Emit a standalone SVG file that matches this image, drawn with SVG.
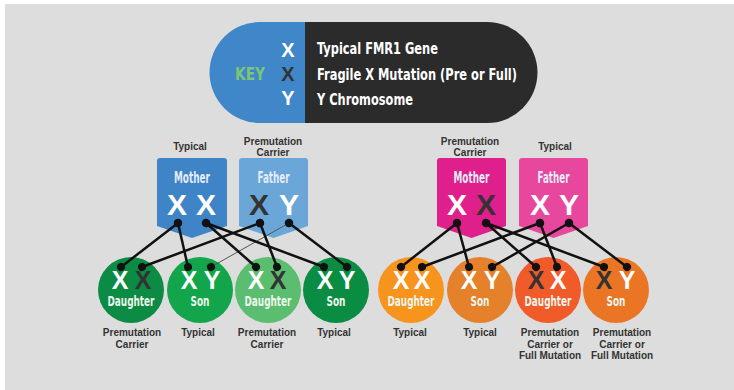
<svg xmlns="http://www.w3.org/2000/svg" width="734" height="390" viewBox="0 0 734 390">
  <style>
    .cond { font-family: "Liberation Sans Narrow", "DejaVu Sans Condensed", "Roboto", "Liberation Sans", sans-serif; font-weight: bold; }
    .big { font-family: "Liberation Sans", "Arial", sans-serif; font-weight: bold; text-anchor: middle; }
    .note { font-family: "Liberation Sans", "Arial", sans-serif; font-weight: bold; font-size: 10px; fill: #333333; text-anchor: middle; }
    .keytxt { font-size: 15px; fill: #ffffff; }
    .role { font-size: 15px; fill: #e4ecf6; text-anchor: middle; }
    .kid { font-size: 14px; fill: #eef6ee; text-anchor: middle; }
    .wx { fill: #ffffff; }
    .dx { fill: #333333; }
    .link { stroke: #111111; stroke-width: 2.5; fill: none; marker-start: url(#dot); marker-end: url(#dot); }
    .thin { stroke: #555555; stroke-width: 1; fill: none; marker-start: url(#dot); marker-end: url(#dot); }
  </style>
  <defs>
    <marker id="dot" markerUnits="userSpaceOnUse" viewBox="-5 -5 10 10" refX="0" refY="0" markerWidth="10" markerHeight="10" orient="auto">
      <circle cx="0" cy="0" r="4" fill="#111111"/>
    </marker>
  </defs>

  <!-- backdrop -->
  <rect x="0" y="0" width="734" height="390" fill="#ffffff"/>
  <rect x="5" y="4" width="729" height="386" fill="#dddddd"/>

  <!-- legend pill -->
  <g id="key">
    <path d="M305,22 H260 A50.5,50.5 0 0 0 260,123 H305 Z" fill="#3f87c8"/>
    <path d="M305,22 H487 A50.5,50.5 0 0 1 487,123 H305 Z" fill="#2b2b2b"/>
    <text x="235" y="80" class="cond" font-size="17" font-weight="normal" fill="#7cc576" textLength="30" lengthAdjust="spacingAndGlyphs">KEY</text>
    <text x="288" y="57" class="big wx" font-size="20">X</text>
    <text x="288" y="81" class="big dx" font-size="20">X</text>
    <text x="288" y="105" class="big wx" font-size="20">Y</text>
    <text x="317" y="54" class="cond keytxt" textLength="121" lengthAdjust="spacingAndGlyphs">Typical FMR1 Gene</text>
    <text x="317" y="80" class="cond keytxt" textLength="200" lengthAdjust="spacingAndGlyphs">Fragile X Mutation (Pre or Full)</text>
    <text x="317" y="105" class="cond keytxt" textLength="96" lengthAdjust="spacingAndGlyphs">Y Chromosome</text>
  </g>

  <!-- left family: parents -->
  <g id="mother-left">
    <text x="190" y="150" class="note">Typical</text>
    <path d="M157,161 Q157,158 160,158 H224 Q227,158 227,161 V226 L192,238 L157,226 Z" fill="#3e84c6"/>
    <text x="192" y="183" class="cond role" textLength="36" lengthAdjust="spacingAndGlyphs">Mother</text>
    <text x="177" y="215" class="big wx" font-size="30">X</text>
    <text x="206" y="215" class="big wx" font-size="30">X</text>
  </g>
  <g id="father-left">
    <text x="273" y="144.5" class="note">Premutation</text>
    <text x="273" y="156" class="note">Carrier</text>
    <path d="M239,161 Q239,158 242,158 H305 Q308,158 308,161 V226 L273.5,238 L239,226 Z" fill="#6aa6d8"/>
    <text x="273.5" y="183" class="cond role" textLength="32" lengthAdjust="spacingAndGlyphs">Father</text>
    <text x="259" y="215" class="big dx" font-size="30">X</text>
    <text x="289" y="215" class="big wx" font-size="30">Y</text>
  </g>

  <!-- right family: parents -->
  <g id="mother-right">
    <text x="470" y="144.5" class="note">Premutation</text>
    <text x="470" y="156" class="note">Carrier</text>
    <path d="M437,161 Q437,158 440,158 H503 Q506,158 506,161 V226 L471.5,238 L437,226 Z" fill="#df1f8b"/>
    <text x="471.5" y="183" class="cond role" fill="#f8dcec" textLength="36" lengthAdjust="spacingAndGlyphs">Mother</text>
    <text x="457" y="215" class="big wx" font-size="30">X</text>
    <text x="486" y="215" class="big dx" font-size="30">X</text>
  </g>
  <g id="father-right">
    <text x="555" y="150" class="note">Typical</text>
    <path d="M519,161 Q519,158 522,158 H585 Q588,158 588,161 V226 L553.5,238 L519,226 Z" fill="#e8479e"/>
    <text x="553.5" y="183" class="cond role" fill="#fbe0ee" textLength="32" lengthAdjust="spacingAndGlyphs">Father</text>
    <text x="540" y="215" class="big wx" font-size="30">X</text>
    <text x="569" y="215" class="big wx" font-size="30">Y</text>
  </g>

  <!-- left family: children -->
  <g id="child-1">
    <circle cx="131" cy="290" r="33" fill="#0b8b43"/>
    <text x="120" y="289" class="big wx" font-size="25">X</text>
    <text x="143" y="289" class="big dx" font-size="25">X</text>
    <text x="131" y="306" class="cond kid" textLength="47" lengthAdjust="spacingAndGlyphs">Daughter</text>
    <text x="132" y="336" class="note">Premutation</text>
    <text x="132" y="347.5" class="note">Carrier</text>
  </g>
  <g id="child-2">
    <circle cx="200" cy="290" r="33" fill="#12a54b"/>
    <text x="189" y="289" class="big wx" font-size="25">X</text>
    <text x="212" y="289" class="big wx" font-size="25">Y</text>
    <text x="200" y="306" class="cond kid" textLength="19" lengthAdjust="spacingAndGlyphs">Son</text>
    <text x="198" y="336" class="note">Typical</text>
  </g>
  <g id="child-3">
    <circle cx="268" cy="290" r="33" fill="#5bbd6f"/>
    <text x="256" y="289" class="big wx" font-size="25">X</text>
    <text x="278" y="289" class="big dx" font-size="25">X</text>
    <text x="268" y="306" class="cond kid" textLength="47" lengthAdjust="spacingAndGlyphs">Daughter</text>
    <text x="267" y="336" class="note">Premutation</text>
    <text x="267" y="347.5" class="note">Carrier</text>
  </g>
  <g id="child-4">
    <circle cx="336" cy="290" r="33" fill="#0a8d42"/>
    <text x="325" y="289" class="big wx" font-size="25">X</text>
    <text x="347" y="289" class="big wx" font-size="25">Y</text>
    <text x="336" y="306" class="cond kid" textLength="19" lengthAdjust="spacingAndGlyphs">Son</text>
    <text x="334" y="336" class="note">Typical</text>
  </g>

  <!-- right family: children -->
  <g id="child-5">
    <circle cx="411" cy="290" r="33" fill="#f7941e"/>
    <text x="401" y="289" class="big wx" font-size="25">X</text>
    <text x="422" y="289" class="big wx" font-size="25">X</text>
    <text x="411" y="306" class="cond kid" fill="#fdeedd" textLength="47" lengthAdjust="spacingAndGlyphs">Daughter</text>
    <text x="410" y="336" class="note">Typical</text>
  </g>
  <g id="child-6">
    <circle cx="480" cy="290" r="33" fill="#e4812a"/>
    <text x="469" y="289" class="big wx" font-size="25">X</text>
    <text x="492" y="289" class="big wx" font-size="25">Y</text>
    <text x="480" y="306" class="cond kid" fill="#fdeedd" textLength="19" lengthAdjust="spacingAndGlyphs">Son</text>
    <text x="480" y="336" class="note">Typical</text>
  </g>
  <g id="child-7">
    <circle cx="548" cy="290" r="33" fill="#f15a29"/>
    <text x="536" y="289" class="big dx" font-size="25">X</text>
    <text x="558" y="289" class="big wx" font-size="25">X</text>
    <text x="548" y="306" class="cond kid" fill="#fde6dd" textLength="47" lengthAdjust="spacingAndGlyphs">Daughter</text>
    <text x="550" y="336" class="note">Premutation</text>
    <text x="550" y="347.5" class="note">Carrier or</text>
    <text x="550" y="359" class="note">Full Mutation</text>
  </g>
  <g id="child-8">
    <circle cx="616" cy="290" r="33" fill="#e97525"/>
    <text x="604" y="289" class="big dx" font-size="25">X</text>
    <text x="627" y="289" class="big wx" font-size="25">Y</text>
    <text x="616" y="306" class="cond kid" fill="#fdeedd" textLength="19" lengthAdjust="spacingAndGlyphs">Son</text>
    <text x="622" y="336" class="note">Premutation</text>
    <text x="622" y="347.5" class="note">Carrier or</text>
    <text x="622" y="359" class="note">Full Mutation</text>
  </g>

  <!-- inheritance links, parent chromosome to child chromosome -->
  <g id="connectors">
    <line class="thin" x1="289" y1="223" x2="211" y2="267"/>
    <line class="link" x1="178" y1="223" x2="121" y2="267"/>
    <line class="link" x1="178" y1="223" x2="188" y2="267"/>
    <line class="link" x1="206" y1="223" x2="256" y2="267"/>
    <line class="link" x1="206" y1="223" x2="324" y2="267"/>
    <line class="link" x1="260" y1="223" x2="142" y2="267"/>
    <line class="link" x1="260" y1="223" x2="277" y2="267"/>
    <line class="link" x1="289" y1="223" x2="347" y2="267"/>

    <line class="link" x1="457" y1="223" x2="401" y2="267"/>
    <line class="link" x1="457" y1="223" x2="469" y2="267"/>
    <line class="link" x1="486" y1="223" x2="536" y2="267"/>
    <line class="link" x1="486" y1="223" x2="604" y2="267"/>
    <line class="link" x1="540" y1="223" x2="422" y2="267"/>
    <line class="link" x1="540" y1="223" x2="557" y2="267"/>
    <line class="link" x1="569" y1="223" x2="492" y2="267"/>
    <line class="link" x1="569" y1="223" x2="627" y2="267"/>
  </g>
</svg>
